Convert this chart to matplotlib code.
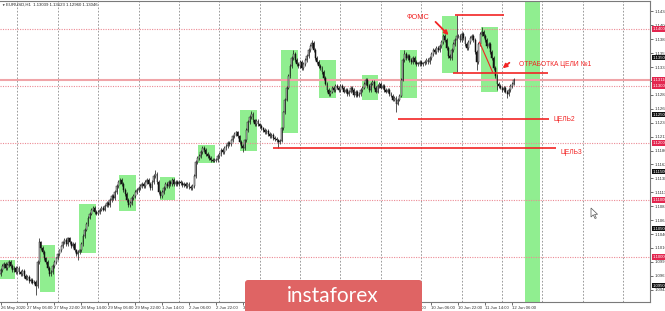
import matplotlib
matplotlib.use("Agg")
import matplotlib.pyplot as plt
from matplotlib.patches import Rectangle, FancyBboxPatch, Polygon
from matplotlib.transforms import blended_transform_factory
import numpy as np

#------------------------------------
# EURUSD H1, 26 May 2020 14:00 .. 12 Jun 2020 07:00 (closes in pips: 1.xxxx * 10000)
closes_pips = [
    10977, 10984, 10988, 10981, 10986, 10991, 10984, 10977, 10981, 10974,
    10981, 10974, 10970, 10976, 10967, 10962, 10965, 10958, 10960, 10955, 10956, 10949, 10991, 11026,
    11016, 11009, 10998, 10991, 10981, 10970, 10974, 10984, 10991, 10998,
    11005, 11012, 11019, 11026, 11030, 11023, 11033, 11026, 11019, 11023, 11012, 11005, 11009,
    11012, 11023, 11037, 11048, 11058, 11069, 11076, 11083, 11086, 11079,
    11076, 11079, 11083, 11086, 11083, 11090, 11095, 11091, 11100, 11107, 11104, 11114, 11125, 11132,
    11135, 11128, 11118, 11111, 11100, 11091, 11095, 11104, 11107, 11114,
    11118, 11121, 11125, 11128, 11125, 11132, 11135, 11128, 11121, 11132, 11142, 11146, 11132, 11114,
    11107, 11114, 11121, 11128, 11125, 11132, 11128, 11135, 11128, 11132,
    11128, 11132, 11130, 11126, 11128, 11125, 11128, 11123, 11121, 11125, 11142, 11167,
    11174, 11177, 11184, 11191, 11188, 11181, 11177, 11174, 11170, 11169, 11170,
    11170, 11177, 11181, 11188, 11184, 11191, 11195, 11200, 11198, 11205, 11212, 11216, 11219, 11212, 11202,
    11195, 11191, 11205, 11223, 11237, 11246, 11251, 11240, 11233, 11239,
    11233, 11230, 11226, 11223, 11219, 11221, 11216, 11212, 11214, 11209, 11207, 11205, 11202, 11204,
    11226, 11254, 11276, 11297, 11318, 11335, 11349, 11356, 11346, 11339,
    11335, 11342, 11332, 11339, 11346, 11353, 11363, 11370, 11376, 11363, 11349, 11342, 11335,
    11332, 11325, 11314, 11304, 11293, 11286, 11290, 11297, 11293, 11300,
    11297, 11293, 11300, 11297, 11290, 11293, 11286, 11290, 11297, 11293, 11284, 11290, 11283, 11286, 11293,
    11297, 11304, 11311, 11300, 11293, 11304, 11307, 11297, 11290, 11300,
    11304, 11297, 11300, 11293, 11290, 11293, 11286, 11283, 11276, 11279, 11269, 11276, 11283,
    11311, 11346, 11356, 11349, 11353, 11346, 11342, 11349, 11342, 11339,
    11339, 11342, 11339, 11340, 11342, 11346, 11342, 11349, 11356, 11363, 11360, 11367, 11363, 11370, 11377,
    11388, 11381, 11367, 11353, 11349, 11363, 11374, 11381, 11388,
    11388, 11381, 11391, 11384, 11374, 11367, 11377, 11384, 11388, 11381, 11360, 11342, 11374, 11391,
    11395, 11388, 11381, 11370, 11374, 11360, 11349, 11332, 11318, 11304,
    11300, 11297, 11293, 11297, 11290, 11286, 11293, 11300, 11304, 11311,
]
first_open_pips = 10970
# long shadows (bar index -> pips)
spike_high = {23: 11033, 92: 11153, 149: 11256, 174: 11363, 185: 11381, 240: 11363,
              271: 11425, 286: 11404}
spike_low = {21: 10933, 46: 10995, 144: 11184, 165: 11191, 235: 11254, 271: 11325,
             283: 11328, 295: 11293, 301: 11279}

# green session boxes: first bar, last bar, low, high (pips)
zones = [(0, 8, 10962, 10995), (24, 32, 10939, 11021), (47, 56, 11007, 11093),
         (71, 80, 11081, 11144), (95, 103, 11100, 11140), (118, 127, 11165, 11197),
         (143, 152, 11186, 11258), (167, 176, 11218, 11363), (190, 199, 11279, 11346),
         (215, 224, 11276, 11319), (238, 247, 11279, 11363), (263, 271, 11323, 11423),
         (286, 295, 11290, 11404)]
future_zone = (312, 320)

round_levels = [1.1400, 1.1300, 1.1200, 1.1100, 1.1000]
half_levels = [1.1350, 1.1250, 1.1150, 1.1050, 1.0950]
price_ticks = [1.14308, 1.14064, 1.13820, 1.13576, 1.13332, 1.13088, 1.12844, 1.12600,
               1.12356, 1.12112, 1.11868, 1.11624, 1.11380, 1.11136, 1.10892, 1.10648,
               1.10404, 1.10160, 1.09916, 1.09672, 1.09428]
time_ticks = [0, 16, 32, 48, 64, 80, 96, 112, 128, 144, 160, 176, 192, 208, 224, 240,
              256, 272, 288, 304]
time_labels = ['26 May 2020', '27 May 06:00', '27 May 22:00', '28 May 14:00', '29 May 06:00',
               '29 May 22:00', '1 Jun 14:00', '2 Jun 06:00', '2 Jun 22:00', '3 Jun 14:00',
               '4 Jun 06:00', '4 Jun 22:00', '5 Jun 14:00', '8 Jun 06:00', '8 Jun 22:00',
               '9 Jun 14:00', '10 Jun 06:00', '10 Jun 22:00', '11 Jun 14:00', '12 Jun 06:00']
day_starts = [10, 34, 58, 82, 106, 130, 154, 178, 202, 226, 250, 274, 298, 322, 346, 370]

# target lines: first bar, last bar, price
fomc_high = (270, 299, 1.1425)
goal1 = (268.6, 325, 1.1323)
goal2 = (236, 325.6, 1.1242)
goal3 = (162, 330, 1.1191)
#------------------------------------

RED = '#f22424'
GREEN = '#90ee90'
SMALL = 3.1

closes = np.array(closes_pips) / 10000
opens = np.r_[first_open_pips / 10000, closes[:-1]]
n = len(closes)
idx = np.arange(n)
highs = np.maximum(opens, closes) + 0.0003
lows = np.minimum(opens, closes) - 0.0003
for k, v in spike_high.items():
    highs[k] = v / 10000
for k, v in spike_low.items():
    lows[k] = v / 10000

fig = plt.figure(figsize=(6.65, 3.11), dpi=100)
plt.rcParams['font.family'] = ['Liberation Sans', 'DejaVu Sans']
ax = fig.add_axes([0, 9 / 311, 650 / 665, 301 / 311])
ax.set_xlim(-0.3, 385.9)
ax.set_ylim(1.09212, 1.14492)

# session boxes
for a, b, lo, hi in zones:
    ax.add_patch(Rectangle((a - 0.5, lo / 10000), b - a + 1, (hi - lo) / 10000,
                           facecolor=GREEN, edgecolor='none', zorder=1))
ax.axvspan(future_zone[0] - 0.5, future_zone[1] + 0.5, color=GREEN, lw=0, zorder=1)

# grid
for d in day_starts:
    ax.axvline(d, color='#8a8a8a', ls=(0, (2, 2)), lw=0.6, zorder=0.5)
for lvl in round_levels:
    ax.axhline(lvl, color='#ec8a94', ls=(0, (1, 1.2)), lw=0.8, zorder=2)
ax.axhline(closes[-1], color='#f0a4a8', lw=1.5, zorder=2)

# candles
ax.vlines(idx, lows, highs, color='#111111', lw=0.5, zorder=3)
body = closes - opens
body = np.where(np.abs(body) < 0.00006, 0.00006, body)
up = closes >= opens
ax.bar(idx[up], body[up], bottom=opens[up], width=0.55, color='white',
       edgecolor='#111111', lw=0.35, zorder=4)
ax.bar(idx[~up], body[~up], bottom=opens[~up], width=0.55, color='#111111',
       edgecolor='#111111', lw=0.35, zorder=4)

# drawn targets
for x0, x1, y in (fomc_high, goal1, goal2, goal3):
    ax.hlines(y, x0, x1, color=RED, lw=1.2, zorder=5)
ax.plot([284.6, 292.3], [1.1377, 1.1325], color=RED, lw=0.8, zorder=5)
ax.annotate('', xy=(267.4, 1.1386), xytext=(257.3, 1.1416),
            arrowprops=dict(arrowstyle='-|>', color=RED, lw=1.3, mutation_scale=6), zorder=6)
ax.annotate('', xy=(297.1, 1.1328), xytext=(303.6, 1.1344),
            arrowprops=dict(arrowstyle='-|>', color=RED, lw=1.3, mutation_scale=6), zorder=6)
ax.text(247.8, 1.1421, 'ФОМС', color=RED, fontsize=5.3, ha='center', va='center', zorder=6)
ax.text(307.8, 1.1337, 'ОТРАБОТКА ЦЕЛИ №1', color=RED, fontsize=4.8, ha='left', va='center', zorder=6)
ax.text(328.6, 1.1242, 'ЦЕЛЬ2', color=RED, fontsize=4.8, ha='left', va='center', zorder=6)
ax.text(332.7, 1.1184, 'ЦЕЛЬ3', color=RED, fontsize=4.8, ha='left', va='center', zorder=6)

# axes
ax.spines['left'].set_visible(False)
for s in ('top', 'right', 'bottom'):
    ax.spines[s].set_color('#7a7a7a')
    ax.spines[s].set_linewidth(0.8)
ax.yaxis.tick_right()
ax.set_yticks(price_ticks)
ax.set_yticklabels([f'{t:.5f}' for t in price_ticks])
ax.tick_params(axis='y', labelsize=SMALL, length=2, pad=1, colors='#333333', width=0.5)
ax.set_xticks(time_ticks)
ax.set_xticklabels(time_labels)
ax.tick_params(axis='x', labelsize=SMALL, length=2, pad=1, colors='#333333', width=0.5)
for t in ax.get_xticklabels():
    t.set_ha('left')

tr = blended_transform_factory(ax.transAxes, ax.transData)
for lvl in round_levels + [closes[-1]]:
    ax.text(1.004, lvl, f'{lvl:.5f}', transform=tr, fontsize=SMALL, color='white',
            va='center', ha='left', clip_on=False, zorder=7,
            bbox=dict(boxstyle='square,pad=0.2', fc='#e3264f', ec='none'))
for lvl in half_levels:
    ax.text(1.004, lvl, f'{lvl:.5f}', transform=tr, fontsize=SMALL, color='white',
            va='center', ha='left', clip_on=False, zorder=7,
            bbox=dict(boxstyle='square,pad=0.2', fc='#111111', ec='none'))

# header
fig.text(1.5 / 665, 1 - 5 / 311, '▼', fontsize=2.5, va='center', color='#222')
fig.text(6 / 665, 1 - 5 / 311, 'EURUSD,H1  1.13039 1.13123 1.12960 1.13046',
         fontsize=SMALL, va='center', color='#222')

# overlay in pixel coords: watermark and mouse cursor
ov = fig.add_axes([0, 0, 1, 1])
ov.set_xlim(0, 665)
ov.set_ylim(311, 0)
ov.axis('off')
ov.patch.set_alpha(0)
ov.add_patch(FancyBboxPatch((245, 280), 177, 40, boxstyle='round,pad=0,rounding_size=3',
                            fc='#df6464', ec='none'))
ov.text(333, 302, 'instaforex', ha='center', va='baseline', fontsize=15,
        color='white', family='Lato')
ov.add_patch(Polygon([(591, 208), (591, 217), (593.3, 214.8), (595, 218.5), (596.3, 218),
                      (594.6, 214.3), (597.6, 214.3)], closed=True, fc='white',
                     ec='#555555', lw=0.5))

fig.savefig('out.png', dpi=100)
